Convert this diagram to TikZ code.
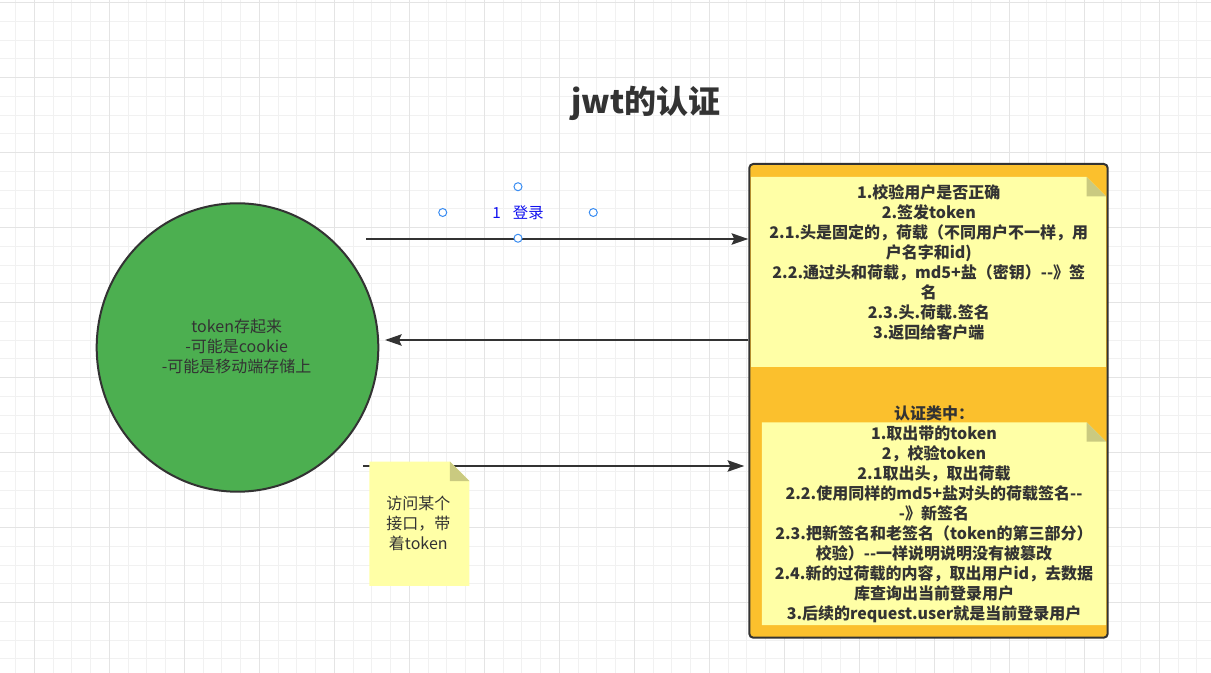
\documentclass[tikz,border=0pt]{standalone}
\usepackage{fontspec}
\setmainfont{Noto Sans CJK SC}
\usepackage{xcolor}
\usepackage{tikz}
\usetikzlibrary{arrows.meta, positioning, calc, shapes.geometric}
\definecolor{mytext}{HTML}{333333}
\definecolor{myborder}{HTML}{333333}
\definecolor{mygreenfill}{HTML}{4CAF50}
\definecolor{myorangefill}{HTML}{FBC02D}
\definecolor{mynotefill}{HTML}{FFFFA6}
\definecolor{mynotefold}{HTML}{CACA80}
\definecolor{mylabelblue}{HTML}{1010F0}
\definecolor{myhandle}{HTML}{3A8DF2}
\definecolor{mygridminor}{HTML}{F1F1F1}
\definecolor{mygridmajor}{HTML}{E4E4E4}
\tikzset{
serverbox/.style={
draw=myborder,
fill=myorangefill,
rounded corners=3pt,
line width=1.5pt
},
clientshape/.style={
ellipse,
draw=myborder,
fill=mygreenfill,
line width=1.5pt,
inner sep=0pt
},
notebox/.style={
inner sep=0pt,
path picture={
\fill[mynotefill] (path picture bounding box.south west)
  -- (path picture bounding box.north west)
  -- ([xshift=-14.5pt]path picture bounding box.north east)
  -- ([yshift=-14.5pt]path picture bounding box.north east)
  -- (path picture bounding box.south east) -- cycle;
\fill[mynotefold] ([xshift=-14.5pt]path picture bounding box.north east)
  -- ([xshift=-14.5pt,yshift=-14.5pt]path picture bounding box.north east)
  -- ([yshift=-14.5pt]path picture bounding box.north east) -- cycle;
}
},
steptext/.style={
font=\bfseries\fontsize{12pt}{15pt}\selectfont,
text=mytext,
align=center,
inner sep=0pt
},
plaintext/.style={
font=\fontsize{12pt}{15pt}\selectfont,
text=mytext,
align=center,
inner sep=0pt
},
flow/.style={
-{Stealth[length=12.5pt,width=8.5pt,inset=2pt]},
line width=1.5pt,
draw=myborder
}
}

\begin{document}
\begin{tikzpicture}[x=0.75pt, y=-0.75pt]
\tikzset{
  gridminor/.style={draw=mygridminor, line width=0.75pt},
  gridmajor/.style={draw=mygridmajor, line width=0.75pt},
  handle/.style={draw=myhandle, fill=white, line width=0.75pt}
}
\useasboundingbox (0,0) rectangle (1211,673);
\fill[white] (0,0) rectangle (1211,673);

% grid
\foreach \i in {0,...,63} {
  \draw[gridminor] ({15.55+18.75*\i},0) -- ++(0,673);
}
\foreach \i in {0,...,35} {
  \draw[gridminor] (0,{2.7+18.75*\i}) -- ++(1211,0);
}
\foreach \i in {0,...,15} {
  \draw[gridmajor] ({34.3+75*\i},0) -- ++(0,673);
}
\foreach \i in {0,...,8} {
  \draw[gridmajor] (0,{2.7+75*\i}) -- ++(1211,0);
}

\node[font=\bfseries\fontsize{24pt}{28pt}\selectfont, text=mytext] (title)
  at (646,103) {jwt的认证};

% client
\node[clientshape, minimum width=211.2pt, minimum height=216.3pt] (client)
  at (237.5,347.5) {};
\node[plaintext] (clienttxt) at (236.7,346.7)
  {token存起来\\-可能是cookie\\-可能是移动端存储上};

% server
\node[serverbox, minimum width=268.8pt, minimum height=355.3pt] (server)
  at (928.5,400.85) {};
\node[notebox, minimum width=266.2pt, minimum height=142.5pt] (issue)
  at (928.5,272) {};
\node[steptext] (issuetxt) at (928.8,262)
  {1.校验用户是否正确\\
   2.签发token\\
   2.1.头是固定的，荷载（不同用户不一样，用\\
   户名字和id)\\
   2.2.通过头和荷载，md5+盐（密钥）-{}-》签\\
   名\\
   2.3.头.荷载.签名\\
   3.返回给客户端};
\node[notebox, minimum width=258.2pt, minimum height=152pt] (check)
  at (933.9,523.7) {};
\node[steptext] (checktxt) at (934,514)
  {认证类中：\\
   1.取出带的token\\
   2，校验token\\
   2.1取出头，取出荷载\\
   2.2.使用同样的md5+盐对头的荷载签名-{}-\\
   -》新签名\\
   2.3.把新签名和老签名（token的第三部分）\\
   校验）-{}-一样说明说明没有被篡改\\
   2.4.新的过荷载的内容，取出用户id，去数据\\
   库查询出当前登录用户\\
   3.后续的request.user就是当前登录用户};

% connectors
\coordinate (loginstart) at (366,239);
\coordinate (backend) at (385,340);
\coordinate (accessstart) at (363,466);
\draw[flow] (loginstart) -- (loginstart -| server.west);
\draw[flow] (backend -| server.west) -- (backend);
\draw[flow] (accessstart) -- ([xshift=-3pt]accessstart -| server.west);

\node[notebox, minimum width=75pt, minimum height=93.2pt] (access)
  at (419.3,523.85) {};
\node[plaintext] (accesstxt) at (418.3,523.5) {访问某个\\接口，带\\着token};

% login label
\node[minimum width=112.5pt, minimum height=38.25pt, inner sep=0pt,
      font=\fontsize{11.5pt}{14pt}\selectfont, text=mylabelblue] (loginlbl)
  at (518,212.5) {1\hspace{9pt}登录};
\foreach \a in {north, south, east, west} {
  \draw[handle] (loginlbl.\a) circle (3pt);
}

\end{tikzpicture}
\end{document}
